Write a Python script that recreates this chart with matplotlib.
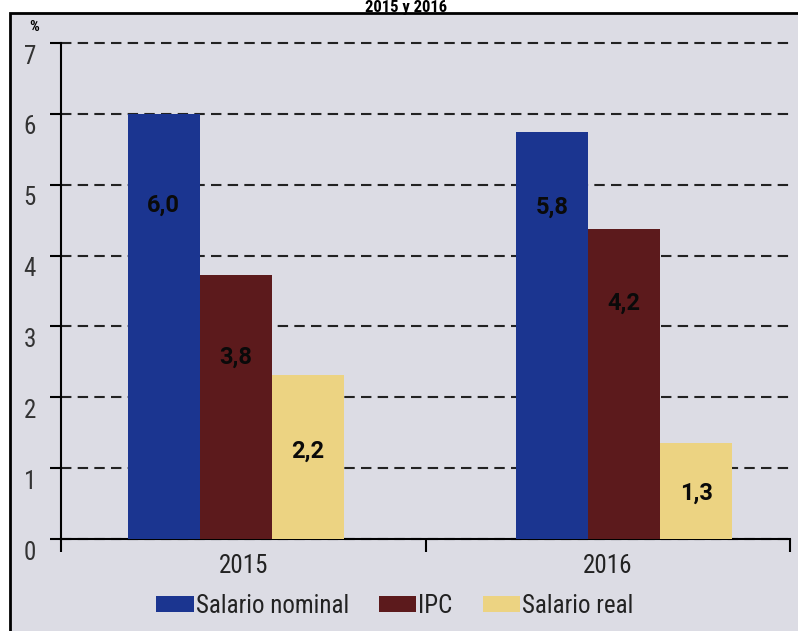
import numpy as np
import matplotlib.pyplot as plt
from matplotlib.patches import Rectangle
from matplotlib.transforms import ScaledTranslation

years = ["2015", "2016"]
series = ["Salario nominal", "IPC", "Salario real"]
nominal = [6.0, 5.75]
ipc = [3.72, 4.37]
real = [2.31, 1.36]
labels = [["6,0", "5,8"], ["3,8", "4,2"], ["2,2", "1,3"]]
colors = ["#1b3590", "#5c1a1c", "#ecd382"]

plt.rcParams['font.family'] = ["Roboto Condensed", "Liberation Sans Narrow", "Roboto", "DejaVu Sans"]

fig = plt.figure(figsize=(7.98, 6.31), dpi=100)
fig.patch.set_facecolor("white")
# frame around chart, behind the axes
fig.patches.append(Rectangle((10/798, -0.05), 1.2, 1 - 13/631 + 0.05,
                             transform=fig.transFigure, facecolor="#dcdce4",
                             edgecolor="black", linewidth=2, zorder=-5))
fig.text(406/798, 1, "2015 y 2016", ha="center", va="top",
         fontsize=12, fontweight="bold", zorder=5)

ax = fig.add_axes([61/798, 1 - 539/631, (790 - 61)/798, (539 - 43)/631])
ax.set_facecolor("none")

x = np.arange(len(years))
shift = np.array([-0.02, 0.045])
w = 0.198
label_y = [[4.71, 4.68], [2.56, 3.33], [1.24, 0.65]]
for i, vals in enumerate([nominal, ipc, real]):
    pos = x + shift + (i - 1) * w
    ax.bar(pos, vals, w, color=colors[i], label=series[i], zorder=3)
    for j in range(len(years)):
        ax.text(pos[j], label_y[i][j], labels[i][j], ha="center", va="center",
                fontsize=17, fontweight="bold", color="#0a0a0a", zorder=4,
                family=["Roboto", "DejaVu Sans"])

ax.set_xlim(-0.5, 1.5)
ax.set_ylim(0, 7)
ax.set_yticks(range(8))
ax.yaxis.grid(True, linestyle=(0, (5, 3)), color="#222222", linewidth=1.5, zorder=1)
for g in ax.get_ygridlines():
    g.set_clip_on(False)
ax.tick_params(axis="y", direction="out", length=8, width=1.5, labelsize=18,
               pad=10, labelcolor="#333333")
# labels sit a little below their ticks, as in the source
for lab in ax.get_yticklabels():
    lab.set_transform(lab.get_transform() + ScaledTranslation(0, -8/72, fig.dpi_scale_trans))
ax.set_xticks([-0.5, 0.5, 1.5])
ax.set_xticklabels([])
ax.set_xticks(x, minor=True)
ax.set_xticklabels(years, minor=True)
ax.tick_params(axis="x", which="major", direction="out", length=9, width=1.5)
ax.tick_params(axis="x", which="minor", length=0, labelsize=18, pad=11,
               labelcolor="#222222")
for s in ["top", "right"]:
    ax.spines[s].set_visible(False)
ax.spines["left"].set_linewidth(1.5)
ax.spines["bottom"].set_linewidth(1.5)

fig.text(34/798, 1 - 27/631, "%", ha="center", va="center", fontsize=11,
         fontweight="bold")

ax.legend(loc="center", bbox_to_anchor=(0.458, -0.135), ncol=3, frameon=False,
          fontsize=18, handlelength=1.5, handleheight=0.6, handletextpad=0.08,
          columnspacing=1.2, labelcolor="#222222")

fig.savefig("out.png", dpi=100)
